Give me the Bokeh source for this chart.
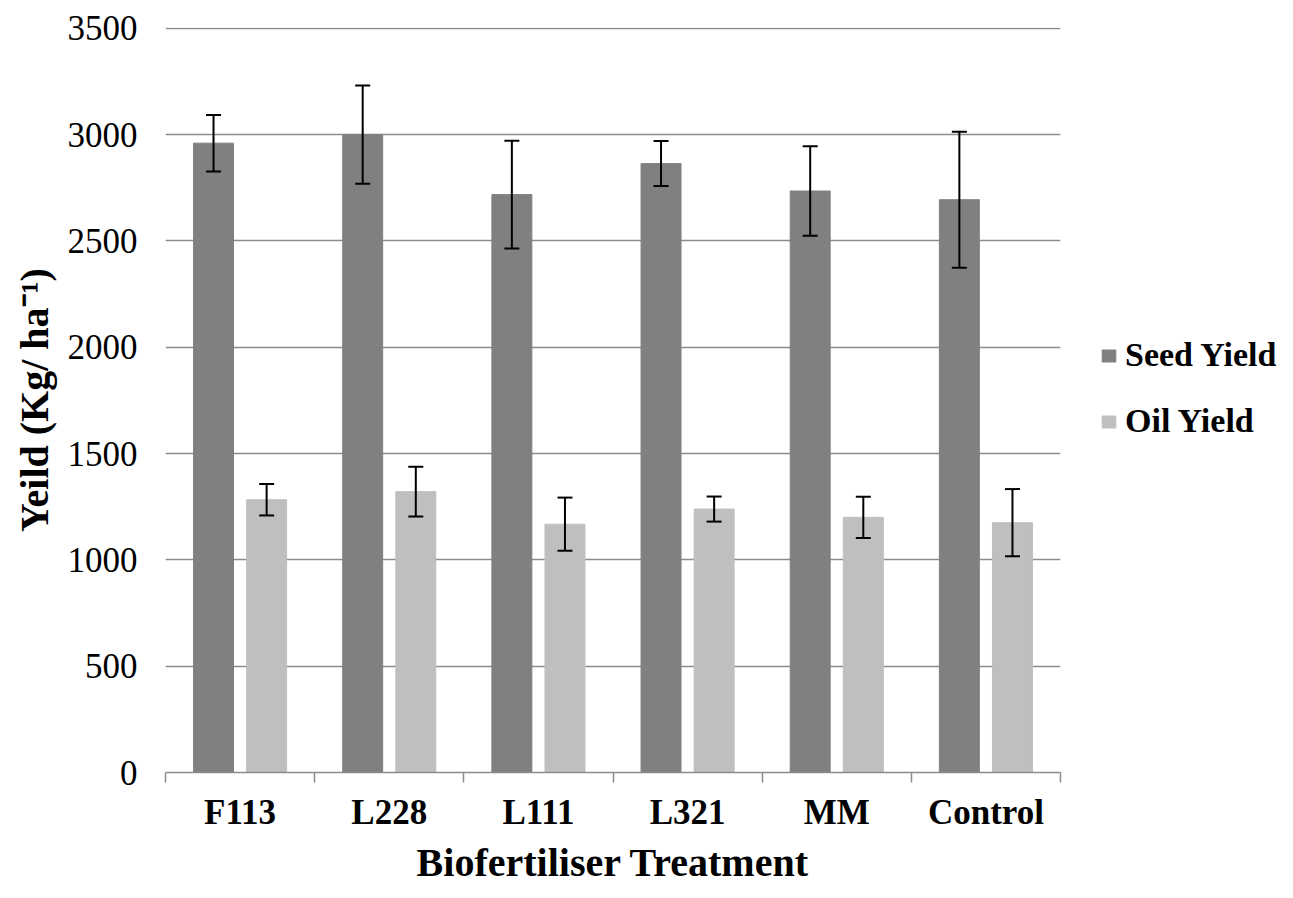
from bokeh.plotting import figure
from bokeh.layouts import row
from bokeh.models import (ColumnDataSource, FixedTicker, Whisker, TeeHead, Legend,
                          LegendItem, Range1d)
from bokeh.embed import file_html
from bokeh.resources import INLINE

categories = ["F113", "L228", "L111", "L321", "MM", "Control"]
seed_yield = [2960, 3000, 2718, 2864, 2735, 2694]
seed_err = [133, 231, 253, 106, 211, 320]
oil_yield = [1283, 1321, 1168, 1239, 1200, 1175]
oil_err = [74, 117, 125, 59, 97, 158]
y_ticks = [0, 500, 1000, 1500, 2000, 2500, 3000, 3500]
series_names = ["Seed Yield", "Oil Yield"]

FONT = "Liberation Serif"
SEED_COLOR = "#808080"
OIL_COLOR = "#bfbfbf"
GRID_COLOR = "#8c8c8c"

n = len(categories)
centers = [i + 0.5 for i in range(n)]
bounds = [i for i in range(n + 1)]
offset = 0.178
bar_w = 0.268

seed_src = ColumnDataSource(dict(
    x=[c - offset for c in centers], top=seed_yield,
    upper=[v + e for v, e in zip(seed_yield, seed_err)],
    lower=[v - e for v, e in zip(seed_yield, seed_err)]))
oil_src = ColumnDataSource(dict(
    x=[c + offset for c in centers], top=oil_yield,
    upper=[v + e for v, e in zip(oil_yield, oil_err)],
    lower=[v - e for v, e in zip(oil_yield, oil_err)]))

W, H = 1065, 890
p = figure(width=W, height=H, x_range=Range1d(0, n), y_range=Range1d(0, 3504),
           output_backend="svg", toolbar_location=None,
           min_border_left=165, min_border_right=W - 1060, min_border_top=27,
           min_border_bottom=H - 772)
p.outline_line_color = None
p.background_fill_color = "white"

p.vbar(x="x", top="top", width=bar_w, source=seed_src,
       fill_color=SEED_COLOR, line_color=SEED_COLOR)
p.vbar(x="x", top="top", width=bar_w, source=oil_src,
       fill_color=OIL_COLOR, line_color=OIL_COLOR)

for src in (seed_src, oil_src):
    w = Whisker(base="x", upper="upper", lower="lower", source=src,
                dimension="height", line_color="black", line_width=2, level="overlay",
                upper_head=TeeHead(size=15, line_color="black", line_width=2),
                lower_head=TeeHead(size=15, line_color="black", line_width=2))
    p.add_layout(w)

# Grid
p.xgrid.visible = False
p.ygrid.ticker = FixedTicker(ticks=y_ticks[1:])
p.ygrid.grid_line_color = GRID_COLOR
p.ygrid.grid_line_width = 1.5

# Y axis
p.yaxis.ticker = FixedTicker(ticks=y_ticks)
p.yaxis.axis_line_color = None
p.yaxis.major_tick_line_color = None
p.yaxis.minor_tick_line_color = None
p.yaxis.major_tick_out = 0
p.yaxis.major_tick_in = 0
p.yaxis.major_label_standoff = 28
p.yaxis.major_label_text_font = FONT
p.yaxis.major_label_text_font_size = "35px"
p.yaxis.major_label_text_color = "black"
p.yaxis.axis_label = "Yeild (Kg/ ha\u207b\u00b9)"
p.yaxis.axis_label_text_font = FONT
p.yaxis.axis_label_text_font_style = "bold"
p.yaxis.axis_label_text_font_size = "40px"
p.yaxis.axis_label_text_color = "black"
p.yaxis.axis_label_standoff = 8

# X axis
p.xaxis.ticker = FixedTicker(ticks=centers, minor_ticks=bounds)
p.xaxis.major_label_overrides = {c: name for c, name in zip(centers, categories)}
p.xaxis.axis_line_color = GRID_COLOR
p.xaxis.axis_line_width = 1.5
p.xaxis.major_tick_line_color = None
p.xaxis.major_tick_out = 0
p.xaxis.major_tick_in = 0
p.xaxis.minor_tick_line_color = GRID_COLOR
p.xaxis.minor_tick_line_width = 1.5
p.xaxis.minor_tick_out = 10
p.xaxis.minor_tick_in = 0
p.xaxis.major_label_standoff = 10
p.xaxis.major_label_text_font = FONT
p.xaxis.major_label_text_font_style = "bold"
p.xaxis.major_label_text_font_size = "35px"
p.xaxis.major_label_text_color = "black"
p.xaxis.axis_label = "Biofertiliser Treatment"
p.xaxis.axis_label_text_font = FONT
p.xaxis.axis_label_text_font_style = "bold"
p.xaxis.axis_label_text_font_size = "40px"
p.xaxis.axis_label_text_color = "black"
p.xaxis.axis_label_standoff = 5

# Legend panel: a separate figure to the right of the chart whose ranges
# lie outside the data, so only the legend is visible there.
LW = 220
pl = figure(width=LW, height=H, x_range=Range1d(-20, -10), y_range=Range1d(0, 3504),
            output_backend="svg", toolbar_location=None,
            x_axis_type=None, y_axis_type=None, min_border=0)
pl.outline_line_color = None
pl.grid.visible = False
lg_seed = pl.vbar(x="x", top="top", width=bar_w, source=seed_src,
                  fill_color=SEED_COLOR, line_color=SEED_COLOR)
lg_oil = pl.vbar(x="x", top="top", width=bar_w, source=oil_src,
                 fill_color=OIL_COLOR, line_color=OIL_COLOR)

legend = Legend(items=[LegendItem(label=series_names[0], renderers=[lg_seed]),
                       LegendItem(label=series_names[1], renderers=[lg_oil])],
                location=(35, 331), orientation="vertical")
legend.border_line_color = None
legend.background_fill_alpha = 0
legend.margin = 0
legend.padding = 0
legend.glyph_width = 17
legend.glyph_height = 15
legend.label_standoff = 8
legend.label_height = 40
legend.spacing = 26
legend.label_text_font = FONT
legend.label_text_font_style = "bold"
legend.label_text_font_size = "34px"
legend.label_text_color = "black"
pl.add_layout(legend)

layout = row(p, pl, spacing=0)
open("out.html", "w").write(file_html(layout, INLINE))
